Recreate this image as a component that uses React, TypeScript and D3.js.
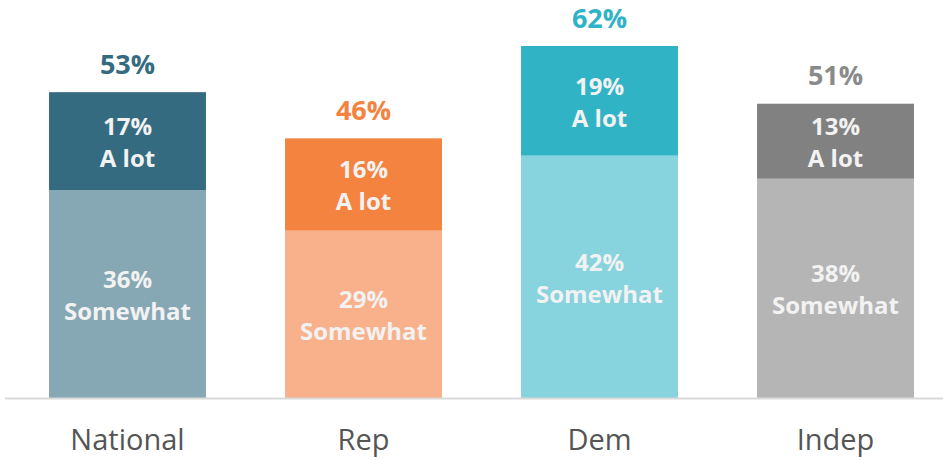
import React from "react";
import * as d3 from "d3";

const categories = ["National", "Rep", "Dem", "Indep"];
const aLot = [17, 16, 19, 13];
const somewhat = [36, 29, 42, 38];
const totals = [53, 46, 62, 51];
const darkColors = ["#356b80", "#f48340", "#31b3c6", "#818181"];
const lightColors = ["#86a7b4", "#f9b18b", "#87d3de", "#b5b5b5"];
const totalColors = ["#356b80", "#f48340", "#31b3c6", "#8a8a8a"];

const W = 943;
const H = 460;
const FONT = "'Open Sans', sans-serif";

export default function App() {
  const x = d3
    .scaleBand<string>()
    .domain(categories)
    .range([9.5, 953.5])
    .paddingInner(0.335)
    .paddingOuter(0.1675);
  const y = d3.scaleLinear().domain([0, 61]).range([398, 46]);
  const bw = x.bandwidth();

  return (
    <svg
      width={W}
      height={H}
      style={{ position: "fixed", left: 0, top: 0, background: "#fff" }}
    >
      {categories.map((c, i) => {
        const x0 = x(c)!;
        const cx = x0 + bw / 2;
        const ySomeTop = y(somewhat[i]);
        const yTop = y(somewhat[i] + aLot[i]);
        const someMid = (y(0) + ySomeTop) / 2;
        const lotMid = (ySomeTop + yTop) / 2;
        return (
          <g key={c}>
            <rect x={x0} y={ySomeTop} width={bw} height={y(0) - ySomeTop} fill={lightColors[i]} />
            <rect x={x0} y={yTop} width={bw} height={ySomeTop - yTop} fill={darkColors[i]} />
            <text x={cx} y={lotMid - 6} textAnchor="middle" fill="#f2f2f2" fontFamily={FONT} fontWeight={700} fontSize={24}>
              {aLot[i]}%
            </text>
            <text x={cx} y={lotMid + 26} textAnchor="middle" fill="#f2f2f2" fontFamily={FONT} fontWeight={700} fontSize={24}>
              A lot
            </text>
            <text x={cx} y={someMid - 6} textAnchor="middle" fill="#f2f2f2" fontFamily={FONT} fontWeight={700} fontSize={24}>
              {somewhat[i]}%
            </text>
            <text x={cx} y={someMid + 26} textAnchor="middle" fill="#f2f2f2" fontFamily={FONT} fontWeight={700} fontSize={24}>
              Somewhat
            </text>
            <text x={cx} y={yTop - 18.5} textAnchor="middle" fill={totalColors[i]} fontFamily={FONT} fontWeight={700} fontSize={27}>
              {totals[i]}%
            </text>
            <text x={cx} y={450} textAnchor="middle" fill="#555" fontFamily={FONT} fontSize={29}>
              {c}
            </text>
          </g>
        );
      })}
      <line x1={5} x2={W} y1={398.5} y2={398.5} stroke="#d9d9d9" strokeWidth={2} />
    </svg>
  );
}
